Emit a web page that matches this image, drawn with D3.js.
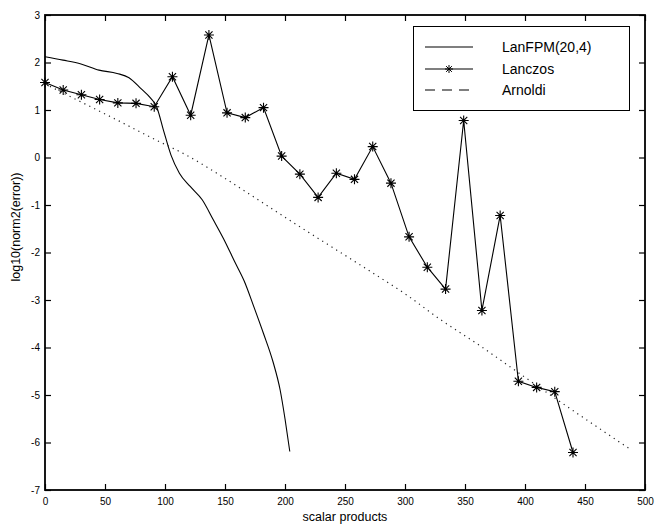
<!DOCTYPE html>
<html>
<head>
<meta charset="utf-8">
<script src="https://cdn.jsdelivr.net/npm/d3@7"></script>
<style>
  body { margin: 0; background: #fff; }
  text { font-family: "Liberation Sans", Arial, sans-serif; fill: #000; }
</style>
</head>
<body>
<div id="chart"></div>
<script>
// Lanczos (stars), evaluated every ~15.17 scalar products
var lanczosX = [0, 15.17, 30.34, 45.52, 60.69, 75.86, 91.03, 106.2, 121.4, 136.6,
  151.7, 166.9, 182.1, 197.2, 212.4, 227.6, 242.8, 257.9, 273.1, 288.3,
  303.4, 318.6, 333.8, 348.9, 364.1, 379.3, 394.5, 409.7, 424.8, 440];
var lanczosY = [1.58, 1.42, 1.32, 1.22, 1.15, 1.14, 1.07, 1.70, 0.89, 2.58,
  0.94, 0.84, 1.05, 0.03, -0.35, -0.84, -0.33, -0.46, 0.23, -0.54,
  -1.67, -2.31, -2.77, 0.78, -3.22, -1.22, -4.71, -4.84, -4.93, -6.21];

// LanFPM(20,4) solid curve
var lanfpmX = [0, 15, 30, 45, 60, 70, 80, 88, 93, 99, 105, 112, 121, 131, 140,
  149, 158, 166, 174, 182, 190, 196, 200, 204];
var lanfpmY = [2.12, 2.05, 1.97, 1.84, 1.77, 1.68, 1.45, 1.25, 1.07, 0.55, 0.05,
  -0.33, -0.61, -0.89, -1.30, -1.72, -2.19, -2.60, -3.14, -3.70, -4.30, -4.90, -5.50, -6.19];

// Arnoldi dotted curve
var arnoldiX = [0, 30, 60, 90, 120, 150, 180, 210, 240, 270, 300, 330, 360, 390, 420, 450, 487];
var arnoldiY = [1.55, 1.17, 0.79, 0.40, 0.02, -0.44, -0.93, -1.42, -1.90, -2.38,
  -2.87, -3.42, -3.92, -4.45, -4.98, -5.50, -6.13];

var xTicks = [0, 50, 100, 150, 200, 250, 300, 350, 400, 450, 500];
var yTicks = [-7, -6, -5, -4, -3, -2, -1, 0, 1, 2, 3];
var legendNames = ['LanFPM(20,4)', 'Lanczos', 'Arnoldi'];

(function() {

  init();

  function init() {
    var width = 657;
    var height = 525;
    var left = 45, right = 645, top = 15, bottom = 490;

    var svg = d3.select('#chart')
      .append('svg')
      .attr('width', width)
      .attr('height', height);

    var x = d3.scaleLinear().domain([0, 500]).range([left, right]);
    var y = d3.scaleLinear().domain([-7, 3]).range([bottom, top]);

    // plain hyphen for negatives, like the original
    var fmt = function(d) { return String(d); };

    // ticks point inwards on all four sides
    var axes = svg.append('g').style('font-size', '13px');

    axes.append('g')
      .attr('transform', 'translate(0,' + bottom + ')')
      .call(d3.axisBottom(x).tickValues(xTicks).tickSize(-6).tickPadding(8).tickFormat(fmt));
    axes.append('g')
      .attr('transform', 'translate(0,' + top + ')')
      .call(d3.axisTop(x).tickValues(xTicks).tickSize(-6).tickFormat(''));
    axes.append('g')
      .attr('transform', 'translate(' + left + ',0)')
      .call(d3.axisLeft(y).tickValues(yTicks).tickSize(-6).tickPadding(5).tickFormat(fmt));
    axes.append('g')
      .attr('transform', 'translate(' + right + ',0)')
      .call(d3.axisRight(y).tickValues(yTicks).tickSize(-6).tickFormat(''));

    axes.selectAll('.domain').remove();
    axes.selectAll('.tick line').attr('stroke', '#000').attr('stroke-width', 1.2);
    axes.selectAll('.tick text')
      .attr('font-family', '"Liberation Sans", Arial, sans-serif')
      .attr('fill', '#000');

    svg.append('rect')
      .attr('x', left)
      .attr('y', top)
      .attr('width', right - left)
      .attr('height', bottom - top)
      .attr('fill', 'none')
      .attr('stroke', '#000')
      .attr('stroke-width', 1.8);

    var line = d3.line()
      .x(function(d) { return x(d[0]); })
      .y(function(d) { return y(d[1]); });

    var lanfpm = d3.zip(lanfpmX, lanfpmY);
    var lanczos = d3.zip(lanczosX, lanczosY);
    var arnoldi = d3.zip(arnoldiX, arnoldiY);

    svg.append('path')
      .attr('d', line.curve(d3.curveMonotoneX)(lanfpm))
      .attr('fill', 'none')
      .attr('stroke', '#000')
      .attr('stroke-width', 1.1);

    svg.append('path')
      .attr('d', line.curve(d3.curveMonotoneX)(arnoldi))
      .attr('fill', 'none')
      .attr('stroke', '#222')
      .attr('stroke-width', 1.2)
      .attr('stroke-dasharray', '1.2,4.3');

    svg.append('path')
      .attr('d', line.curve(d3.curveLinear)(lanczos))
      .attr('fill', 'none')
      .attr('stroke', '#000')
      .attr('stroke-width', 1.1);

    svg.append('g').selectAll('path')
      .data(lanczos)
      .enter()
      .append('path')
      .attr('d', star(5))
      .attr('transform', function(d) { return 'translate(' + x(d[0]) + ',' + y(d[1]) + ')'; })
      .attr('fill', 'none')
      .attr('stroke', '#000')
      .attr('stroke-width', 1.1);

    // legend
    var legend = svg.append('g');
    legend.append('rect')
      .attr('x', 413.5)
      .attr('y', 26.5)
      .attr('width', 216)
      .attr('height', 84)
      .attr('fill', '#fff')
      .attr('stroke', '#000')
      .attr('stroke-width', 1);

    var rows = [47, 69, 90];
    var dashes = [null, null, '10,7'];
    legendNames.forEach(function(name, i) {
      legend.append('line')
        .attr('x1', 425).attr('x2', 473)
        .attr('y1', rows[i]).attr('y2', rows[i])
        .attr('stroke', '#000')
        .attr('stroke-width', 1.1)
        .attr('stroke-dasharray', dashes[i]);
      legend.append('text')
        .attr('x', 502)
        .attr('y', rows[i] + 5)
        .style('font-size', '14px')
        .text(name);
    });
    legend.append('path')
      .attr('d', star(4))
      .attr('transform', 'translate(449,' + rows[1] + ')')
      .attr('fill', 'none')
      .attr('stroke', '#000')
      .attr('stroke-width', 1);

    svg.append('text')
      .attr('x', (left + right) / 2)
      .attr('y', 521)
      .attr('text-anchor', 'middle')
      .style('font-size', '12.5px')
      .text('scalar products');

    svg.append('text')
      .attr('transform', 'translate(20,227) rotate(-90)')
      .attr('text-anchor', 'middle')
      .style('font-size', '12.5px')
      .text('log10(norm2(error))');
  }

  // asterisk marker: plus and cross
  function star(r) {
    var d = r * 0.72;
    return 'M' + (-r) + ',0L' + r + ',0M0,' + (-r) + 'L0,' + r +
      'M' + (-d) + ',' + (-d) + 'L' + d + ',' + d +
      'M' + (-d) + ',' + d + 'L' + d + ',' + (-d);
  }

})()
</script>
</body>
</html>
